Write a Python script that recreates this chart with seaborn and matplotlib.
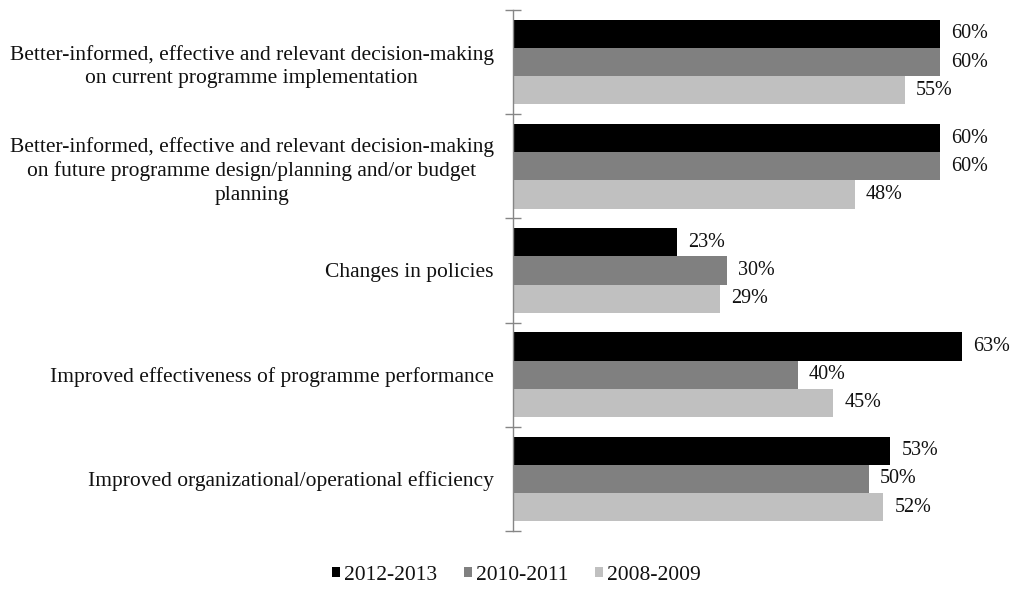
import matplotlib
matplotlib.use("Agg")
import matplotlib.pyplot as plt
import seaborn as sns
import pandas as pd
from matplotlib.patches import Patch

categories = [
    "Better-informed, effective and relevant decision-making\non current programme implementation",
    "Better-informed, effective and relevant decision-making\non future programme design/planning and/or budget\nplanning",
    "Changes in policies",
    "Improved effectiveness of programme performance",
    "Improved organizational/operational efficiency",
]
periods = ["2012-2013", "2010-2011", "2008-2009"]
values_2012_2013 = [60, 60, 23, 63, 53]
values_2010_2011 = [60, 60, 30, 40, 50]
values_2008_2009 = [55, 48, 29, 45, 52]
colors = ["#000000", "#808080", "#c0c0c0"]

rows = []
for period, vals in zip(periods, [values_2012_2013, values_2010_2011, values_2008_2009]):
    for cat, v in zip(categories, vals):
        rows.append({"category": cat, "period": period, "value": v})
df = pd.DataFrame(rows)

sns.set_style("white")
plt.rcParams["font.family"] = ["Liberation Serif", "DejaVu Serif"]

W, H = 1013, 589
fig = plt.figure(figsize=(W / 100, H / 100), dpi=100)
ax = fig.add_axes([513 / W, (H - 531) / H, (983 - 513) / W, (531 - 10) / H])

sns.barplot(data=df, y="category", x="value", hue="period", order=categories,
            hue_order=periods, palette=colors, orient="h", width=0.81,
            saturation=1, legend=False, linewidth=0, ax=ax)

for container in ax.containers:
    ax.bar_label(container, labels=[f"{int(v)}%" for v in container.datavalues],
                 padding=8, fontsize=14.5, color="#111111")

ax.set_xlim(0, 66)
ax.set_ylim(4.5, -0.5)
ax.set_xlabel("")
ax.set_ylabel("")
ax.set_xticks([])
for s in ["top", "right", "bottom"]:
    ax.spines[s].set_visible(False)
ax.spines["left"].set_color("#868686")
ax.spines["left"].set_linewidth(1)

ax.set_yticks(range(len(categories)))
ax.set_yticklabels(categories, fontsize=15.5, color="#111111",
                   multialignment="center", linespacing=1.3)
ax.tick_params(axis="y", which="major", length=0, pad=14)
ax.set_yticks([i - 0.5 for i in range(len(categories) + 1)], minor=True)
ax.tick_params(axis="y", which="minor", left=True, direction="inout", length=12,
               color="#868686", width=1)

handles = [Patch(facecolor=c, edgecolor="none") for c in colors]
fig.legend(handles, periods, loc="center", bbox_to_anchor=(0.51, (H - 575) / H),
           ncol=3, frameon=False, fontsize=15.5, handlelength=0.37, handleheight=0.37,
           handletextpad=0.19, columnspacing=1.25, labelcolor="#111111")

fig.savefig("out.png", dpi=100)
